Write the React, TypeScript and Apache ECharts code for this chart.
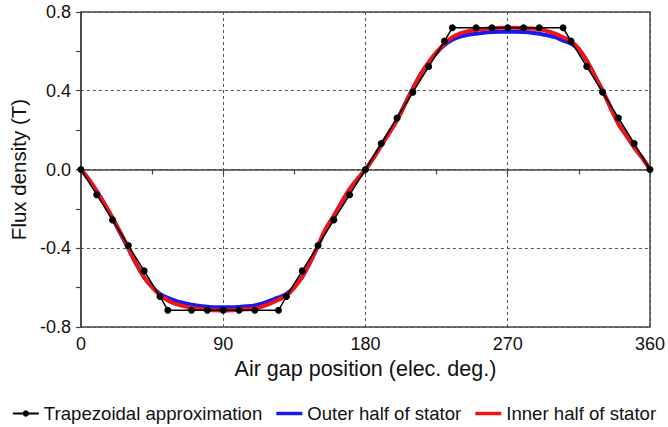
import React, { useEffect, useRef } from "react";
import * as echarts from "echarts";

// Trapezoidal approximation
const trapX = [0, 10, 20, 30, 40, 50, 55, 70, 80, 90, 100, 110, 125, 130, 140, 150, 160, 170, 180,
  190, 200, 210, 220, 230, 235, 250, 260, 270, 280, 290, 305, 310, 320, 330, 340, 350, 360];
const trapY = [0, -0.128, -0.256, -0.386, -0.515, -0.645, -0.715, -0.715, -0.715, -0.715, -0.715, -0.715, -0.715,
  -0.645, -0.515, -0.386, -0.256, -0.128, 0,
  0.132, 0.262, 0.393, 0.523, 0.652, 0.72, 0.72, 0.72, 0.72, 0.72, 0.72, 0.72,
  0.652, 0.523, 0.393, 0.262, 0.132, 0];

// Curves sampled every 5 electrical degrees
const curveX = [0, 5, 10, 15, 20, 25, 30, 35, 40, 45, 50, 55, 60, 65, 70, 75, 80, 85, 90, 95, 100, 105, 110,
  115, 120, 125, 130, 135, 140, 145, 150, 155, 160, 165, 170, 175, 180, 185, 190, 195, 200, 205, 210, 215,
  220, 225, 230, 235, 240, 245, 250, 255, 260, 265, 270, 275, 280, 285, 290, 295, 300, 305, 310, 315, 320,
  325, 330, 335, 340, 345, 350, 355, 360];
const innerY = [0, -0.05, -0.11, -0.175, -0.245, -0.32, -0.398, -0.478, -0.548, -0.598, -0.638, -0.665,
  -0.682, -0.694, -0.702, -0.708, -0.712, -0.715, -0.716, -0.715, -0.712, -0.71, -0.706, -0.695, -0.68,
  -0.662, -0.64, -0.6, -0.545, -0.47, -0.385, -0.3, -0.235, -0.165, -0.1, -0.048, 0,
  0.058, 0.122, 0.185, 0.25, 0.33, 0.41, 0.485, 0.545, 0.596, 0.638, 0.672, 0.692, 0.703, 0.71, 0.714,
  0.717, 0.72, 0.72, 0.72, 0.718, 0.716, 0.712, 0.703, 0.69, 0.672, 0.652, 0.613, 0.554, 0.477, 0.401,
  0.316, 0.232, 0.173, 0.113, 0.06, 0];
const outerY = [0, -0.05, -0.11, -0.177, -0.248, -0.325, -0.402, -0.48, -0.548, -0.596, -0.632, -0.652,
  -0.667, -0.678, -0.687, -0.693, -0.697, -0.7, -0.7, -0.7, -0.698, -0.695, -0.69, -0.68, -0.665,
  -0.65, -0.632, -0.596, -0.545, -0.472, -0.388, -0.302, -0.236, -0.166, -0.1, -0.048, 0,
  0.058, 0.122, 0.186, 0.252, 0.333, 0.412, 0.485, 0.543, 0.592, 0.632, 0.659, 0.675, 0.684, 0.69, 0.695,
  0.698, 0.7, 0.7, 0.7, 0.698, 0.695, 0.69, 0.682, 0.672, 0.655, 0.64, 0.608, 0.552, 0.477, 0.401,
  0.316, 0.232, 0.173, 0.113, 0.06, 0];

const xTicks = [0, 90, 180, 270, 360];
const yTicks = [-0.8, -0.4, 0.0, 0.4, 0.8];

const FONT = "'Liberation Sans', Arial, sans-serif";
const LINE_ICON = "path://M0,0H30V4H0Z";

export default function App() {
  const ref = useRef<HTMLDivElement>(null);
  useEffect(() => {
    if (!ref.current) return;
    const chart = echarts.init(ref.current, undefined, { renderer: "svg" });
    const pair = (xs: number[], ys: number[]) => xs.map((x, i) => [x, ys[i]]);
    chart.setOption({
      animation: false,
      backgroundColor: "#ffffff",
      textStyle: { fontFamily: FONT },
      grid: {
        left: 76, right: 17, top: 12, bottom: 100,
        show: true, borderColor: "#444", borderWidth: 1.5,
      },
      legend: {
        left: "center",
        top: 399,
        itemWidth: 26,
        itemHeight: 8,
        itemGap: 14,
        textStyle: { fontSize: 18.6, color: "#111", fontFamily: FONT },
        data: [
          { name: "Trapezoidal approximation" },
          { name: "Outer half of stator", icon: LINE_ICON },
          { name: "Inner half of stator", icon: LINE_ICON },
        ],
      },
      xAxis: {
        type: "value",
        min: xTicks[0],
        max: xTicks[xTicks.length - 1],
        interval: 90,
        name: "Air gap position (elec. deg.)",
        nameLocation: "middle",
        nameGap: 28,
        nameTextStyle: { fontSize: 21.5, color: "#111", fontFamily: FONT },
        axisLine: { lineStyle: { color: "#444", width: 1.5 } },
        axisTick: { show: true, inside: false, length: 5, lineStyle: { color: "#444", width: 1.2 } },
        minorTick: { show: true, splitNumber: 2, length: 5, lineStyle: { color: "#444", width: 1.2 } },
        axisLabel: { fontSize: 18, color: "#111", margin: 8, fontFamily: FONT },
        splitLine: { show: true, lineStyle: { color: "#555", type: [3, 3], width: 1 } },
      },
      yAxis: {
        type: "value",
        min: yTicks[0],
        max: yTicks[yTicks.length - 1],
        interval: 0.4,
        name: "Flux density (T)",
        nameLocation: "middle",
        nameGap: 41,
        nameTextStyle: { fontSize: 20.5, color: "#111", fontFamily: FONT },
        axisLine: { show: true, lineStyle: { color: "#444", width: 1.5 } },
        axisTick: { show: true, inside: false, length: 5, lineStyle: { color: "#444", width: 1.2 } },
        minorTick: { show: true, splitNumber: 2, length: 5, lineStyle: { color: "#444", width: 1.2 } },
        axisLabel: {
          fontSize: 18, color: "#111", margin: 10, fontFamily: FONT,
          formatter: (v: number) => v.toFixed(1),
        },
        splitLine: { show: true, lineStyle: { color: "#555", type: [3, 3], width: 1 } },
      },
      series: [
        {
          name: "Outer half of stator",
          type: "line",
          data: pair(curveX, outerY),
          smooth: 0.3,
          showSymbol: false,
          symbol: "none",
          lineStyle: { color: "#1a1aee", width: 4 },
          itemStyle: { color: "#1a1aee" },
          z: 2,
        },
        {
          name: "Inner half of stator",
          type: "line",
          data: pair(curveX, innerY),
          smooth: 0.3,
          showSymbol: false,
          symbol: "none",
          lineStyle: { color: "#f01414", width: 4 },
          itemStyle: { color: "#f01414" },
          z: 3,
        },
        {
          name: "Trapezoidal approximation",
          type: "line",
          data: pair(trapX, trapY),
          symbol: "circle",
          symbolSize: 7,
          lineStyle: { color: "#000", width: 1.5 },
          itemStyle: { color: "#000" },
          z: 4,
        },
      ],
    });
    return () => chart.dispose();
  }, []);
  return (
    <div
      ref={ref}
      style={{ position: "fixed", left: 0, top: 0, width: 668, height: 427 }}
    />
  );
}
